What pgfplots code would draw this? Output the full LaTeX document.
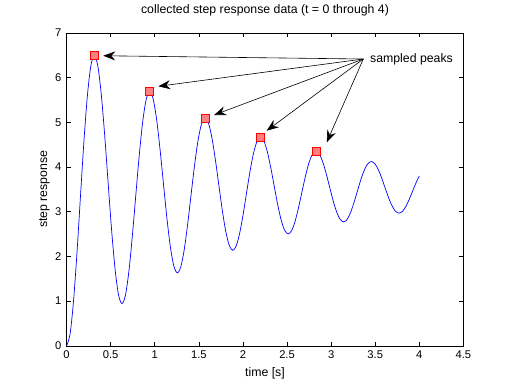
\documentclass[border=0pt]{standalone}
\usepackage{pgfplots}
\pgfplotsset{compat=1.18}
\usepackage{fontspec}
\setmainfont{Liberation Sans}
\usetikzlibrary{arrows.meta}
\definecolor{mkfill}{RGB}{255,128,128}
\begin{document}
\fontsize{12.3pt}{14pt}\selectfont
\begin{tikzpicture}
\begin{axis}[
  scale only axis,
  width=396.8pt, height=313pt,
  xmin=0, xmax=4.5, ymin=0, ymax=7,
  xtick={0,0.5,1,1.5,2,2.5,3,3.5,4,4.5},
  xticklabels={0,0.5,1,1.5,2,2.5,3,3.5,4,4.5},
  ytick={0,1,2,3,4,5,6,7},
  tick align=inside,
  major tick length=4pt,
  tick style={black, line width=0.6pt},
  axis line style={line width=0.6pt},
  /pgf/number format/assume math mode=true,
  tick label style={font=\fontsize{11.2pt}{13pt}\selectfont},
  xticklabel style={yshift=-1pt},
  yticklabel style={xshift=-1pt},
  title={collected step response data (t = 0 through 4)},
  title style={yshift=7pt, font=\fontsize{12.3pt}{14pt}\selectfont},
  xlabel={time [s]},
  ylabel={step response},
  label style={font=\fontsize{12.3pt}{14pt}\selectfont},
  ylabel style={yshift=-3pt},
  clip=false,
]
\coordinate (ll) at (rel axis cs:0,0);
\coordinate (ur) at (rel axis cs:1,1);
\addplot[blue, line width=0.7pt, smooth, tension=0.5] table {
0.0000 0.0000
0.0393 0.2636
0.0785 1.0014
0.1178 2.0848
0.1571 3.3382
0.1963 4.5676
0.2356 5.5898
0.2749 6.2600
0.3142 6.4912
0.3534 6.2659
0.3927 5.6354
0.4320 4.7095
0.4712 3.6383
0.5105 2.5876
0.5498 1.7140
0.5890 1.1412
0.6283 0.9436
0.6676 1.1362
0.7069 1.6750
0.7461 2.4663
0.7854 3.3818
0.8247 4.2798
0.8639 5.0264
0.9032 5.5159
0.9425 5.6848
0.9817 5.5202
1.0210 5.0597
1.0603 4.3834
1.0996 3.6010
1.1388 2.8336
1.1781 2.1955
1.2174 1.7771
1.2566 1.6328
1.2959 1.7734
1.3352 2.1670
1.3744 2.7450
1.4137 3.4137
1.4530 4.0695
1.4923 4.6149
1.5315 4.9724
1.5708 5.0958
1.6101 4.9756
1.6493 4.6392
1.6886 4.1452
1.7279 3.5738
1.7671 3.0132
1.8064 2.5472
1.8457 2.2416
1.8850 2.1362
1.9242 2.2389
1.9635 2.5264
2.0028 2.9486
2.0420 3.4370
2.0813 3.9160
2.1206 4.3143
2.1598 4.5755
2.1991 4.6656
2.2384 4.5778
2.2777 4.3321
2.3169 3.9713
2.3562 3.5539
2.3955 3.1445
2.4347 2.8040
2.4740 2.5809
2.5133 2.5039
2.5525 2.5789
2.5918 2.7889
2.6311 3.0972
2.6704 3.4540
2.7096 3.8039
2.7489 4.0948
2.7882 4.2855
2.8274 4.3513
2.8667 4.2872
2.9060 4.1078
2.9452 3.8442
2.9845 3.5394
3.0238 3.2403
3.0631 2.9917
3.1023 2.8287
3.1416 2.7724
3.1809 2.8272
3.2201 2.9806
3.2594 3.2058
3.2987 3.4664
3.3379 3.7219
3.3772 3.9344
3.4165 4.0738
3.4558 4.1218
3.4950 4.0750
3.5343 3.9439
3.5736 3.7514
3.6128 3.5287
3.6521 3.3103
3.6914 3.1287
3.7306 3.0097
3.7699 2.9686
3.8092 3.0086
3.8485 3.1206
3.8877 3.2851
3.9270 3.4754
3.9663 3.6621
4.0000 3.7983
};
\addplot[only marks, mark=square*, mark size=4pt,
  mark options={fill=mkfill, draw=red, line width=0.6pt}] table {
0.3142 6.4912
0.9425 5.6848
1.5708 5.0958
2.1991 4.6656
2.8274 4.3513
};
\begin{scope}[line width=0.6pt, -{Stealth[length=12pt,width=9pt,inset=4pt]}]
\draw (axis cs:3.365,6.415) -- (axis cs:0.416,6.488);
\draw (axis cs:3.365,6.415) -- (axis cs:1.040,5.804);
\draw (axis cs:3.365,6.415) -- (axis cs:1.672,5.162);
\draw (axis cs:3.365,6.415) -- (axis cs:2.269,4.811);
\draw (axis cs:3.365,6.415) -- (axis cs:2.950,4.552);
\end{scope}
\node[anchor=west, inner sep=0pt] at (axis cs:3.44,6.40) {sampled peaks};
\end{axis}
\path ([shift={(-66.6pt,-42.2pt)}]ll) rectangle ([shift={(48.6pt,28.8pt)}]ur);
\end{tikzpicture}
\end{document}
